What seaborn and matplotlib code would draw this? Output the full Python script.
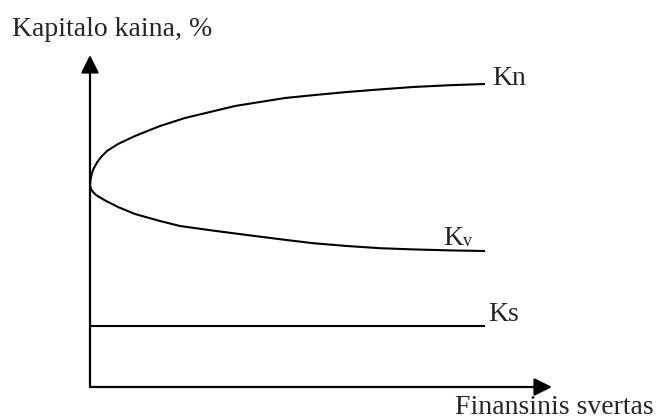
import matplotlib
matplotlib.use("Agg")
import matplotlib.pyplot as plt
import numpy as np
import pandas as pd
import seaborn as sns

# Schematic: cost of capital vs. financial leverage
kn_x = [0, 0.013, 0.038, 0.076, 0.127, 0.203, 0.304, 0.43, 0.709, 1.139, 1.772, 2.405,
        3.038, 3.671, 4.304, 4.937, 5.696, 6.506, 7.342, 8.177, 9.114, 10.0]
kn_y = [10.1, 10.35, 10.6, 10.85, 11.05, 11.3, 11.55, 11.8, 12.15, 12.55, 13.05, 13.45,
        13.75, 14.05, 14.25, 14.45, 14.6, 14.75, 14.88, 15.0, 15.09, 15.15]

kv_x = [0, 0.025, 0.076, 0.152, 0.253, 0.38, 0.709, 1.139, 1.772, 2.278, 3.114, 3.975,
        4.81, 5.646, 6.506, 7.342, 8.177, 9.114, 10.0]
kv_y = [10.1, 9.9, 9.75, 9.6, 9.48, 9.33, 9.0, 8.65, 8.3, 8.05, 7.82, 7.6,
        7.39, 7.19, 7.05, 6.94, 6.88, 6.83, 6.8]

ks_x = [0, 10.0]
ks_y = [3.05, 3.05]

series_names = ["Kn", "Kv", "Ks"]

df = pd.concat([
    pd.DataFrame({"x": kn_x, "y": kn_y, "s": series_names[0]}),
    pd.DataFrame({"x": kv_x, "y": kv_y, "s": series_names[1]}),
    pd.DataFrame({"x": ks_x, "y": ks_y, "s": series_names[2]}),
], ignore_index=True)

sns.set_style("white")
plt.rcParams["font.family"] = ["Liberation Serif", "DejaVu Serif"]

W, H = 665, 419
fig = plt.figure(figsize=(W / 100, H / 100), dpi=100)
x0, y0, x1, y1 = 90, 387, 552, 55
ax = fig.add_axes([x0 / W, (H - y0) / H, (x1 - x0) / W, (y0 - y1) / H])

sns.lineplot(data=df, x="x", y="y", hue="s", units="s", estimator=None, sort=False,
             palette=["black"] * 3, linewidth=1.5, legend=False, ax=ax)
for ln in ax.get_lines():
    ln.set_solid_joinstyle("round")
    ln.set_solid_capstyle("butt")

ax.set_xlim(0, (x1 - x0) / 39.5)
ax.set_ylim(0, (y0 - y1) / 20)
ax.set_xticks([])
ax.set_yticks([])
ax.set_xlabel("")
ax.set_ylabel("")
for sp in ax.spines.values():
    sp.set_visible(False)

arrow = dict(arrowstyle="-|>,head_length=0.4,head_width=0.2", mutation_scale=27,
             lw=1.6, color="black", shrinkA=0, shrinkB=0)
ax.annotate("", xy=(1, 0), xytext=(0, 0), xycoords="axes fraction", arrowprops=arrow)
ax.annotate("", xy=(0, 1), xytext=(0, 0), xycoords="axes fraction", arrowprops=arrow)

fs = 20
kw = dict(fontsize=fs, va="baseline", ha="left", clip_on=False)
ax.text(-1.97, 17.55, "Kapitalo kaina, %", **kw)
ax.text(9.24, -1.35, "Finansinis svertas", **kw)
ax.text(10.18, 15.1, "Kn", **kw)
ax.text(10.08, 3.3, "Ks", **kw)
ax.text(8.94, 7.1, "K", **kw)
ax.text(9.45, 7.05, "v", fontsize=13, va="baseline", ha="left", clip_on=False)

fig.savefig("out.png", dpi=100)
